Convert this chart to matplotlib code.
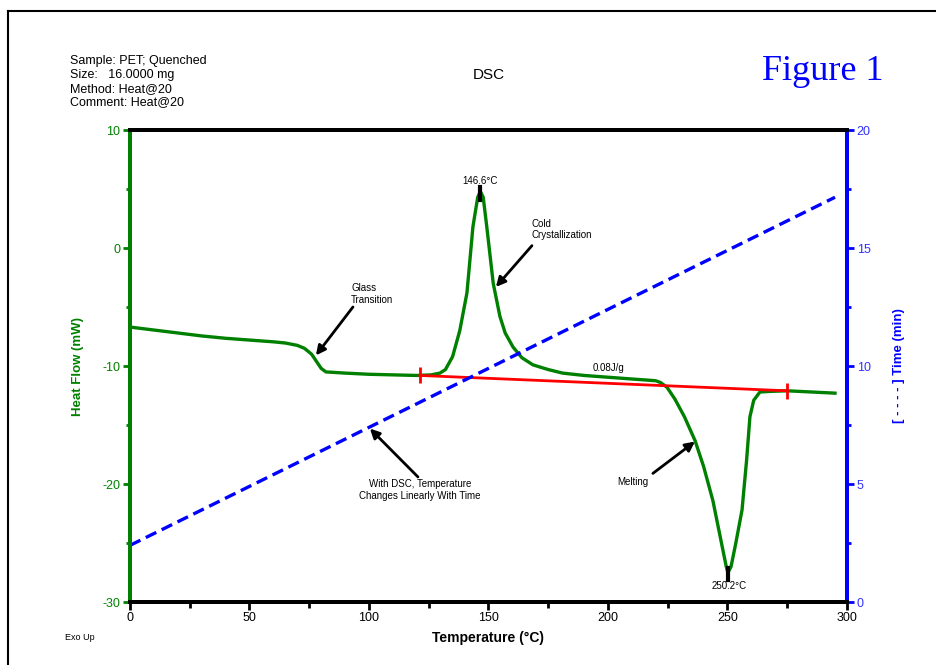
import matplotlib
matplotlib.use("Agg")
import matplotlib.pyplot as plt
from matplotlib.lines import Line2D
from matplotlib.ticker import MultipleLocator

plt.rcParams['font.family'] = ['Liberation Sans', 'DejaVu Sans']
plt.rcParams['axes.unicode_minus'] = False

# heat flow curve (Temperature in C, heat flow in mW)
temp = [0, 10, 20, 30, 40, 50, 60, 65, 70, 73, 76, 78, 80, 82, 90, 100, 110, 120,
        126, 129.7, 132, 135, 138, 141, 143.5, 145.5, 146.6, 147.8, 149.3, 152,
        154.8, 157, 160.3, 164, 168.6, 175, 181, 190, 200, 210, 217, 220, 222,
        224.7, 228, 232, 236.4, 240, 243.9, 247, 249.5, 250.2, 251.5, 253.5,
        256.1, 258, 259.4, 261, 263.6, 268, 275, 285, 295]
heat_flow = [-6.7, -6.95, -7.2, -7.45, -7.65, -7.8, -7.95, -8.05, -8.25, -8.5, -9.0,
             -9.6, -10.2, -10.5, -10.6, -10.7, -10.75, -10.8, -10.75, -10.6, -10.3,
             -9.2, -7.0, -3.8, 1.8, 4.3, 4.8, 4.3, 1.8, -3.0, -5.8, -7.2, -8.4, -9.3,
             -9.9, -10.3, -10.6, -10.8, -10.95, -11.1, -11.2, -11.25, -11.4, -11.8,
             -12.8, -14.3, -16.3, -18.5, -21.4, -24.5, -27.0, -27.5, -27.0, -25.0,
             -22.2, -18.0, -14.3, -12.9, -12.2, -12.15, -12.1, -12.2, -12.3]

# integration baseline
base_temp = [121.3, 274.9]
base_flow = [-10.8, -12.1]

# time vs temperature
time_temp = [0, 295]
time_min = [2.4, 17.15]

green = '#008000'
blue = '#0000ff'

fig = plt.figure(figsize=(9.37, 6.65), dpi=100)
ax = fig.add_axes([0.1387, 0.0947, 0.7652, 0.7098])
ax2 = ax.twinx()

ax.plot(temp, heat_flow, color=green, lw=2.4, zorder=3)
ax.plot(base_temp, base_flow, color='red', lw=2, zorder=4)
ax.plot(base_temp, base_flow, ls='none', marker='|', ms=12, mew=2, color='red', zorder=4)
ax2.plot(time_temp, time_min, color=blue, lw=2.4, dashes=(3.5, 1.8))

ax.set_xlim(0, 300)
ax.set_ylim(-30, 10)
ax2.set_ylim(0, 20)

ax.xaxis.set_major_locator(MultipleLocator(50))
ax.xaxis.set_minor_locator(MultipleLocator(25))
ax.yaxis.set_major_locator(MultipleLocator(10))
ax.yaxis.set_minor_locator(MultipleLocator(5))
ax2.yaxis.set_major_locator(MultipleLocator(5))
ax2.yaxis.set_minor_locator(MultipleLocator(2.5))

for a in (ax, ax2):
    for s in a.spines.values():
        s.set_linewidth(2.8)
    a.spines['left'].set_color(green)
    a.spines['right'].set_color(blue)
    a.spines['top'].set_color('black')
    a.spines['bottom'].set_color('black')

ax.tick_params(axis='x', which='major', direction='out', length=6, width=2,
               labelsize=9, pad=1, colors='black')
ax.tick_params(axis='x', which='minor', direction='out', length=4, width=2)
ax.tick_params(axis='y', which='major', direction='out', length=5, width=2,
               labelsize=9, pad=2, colors=green)
ax.tick_params(axis='y', which='minor', direction='out', length=3, width=2, colors=green)
ax2.tick_params(axis='y', which='major', direction='out', length=5, width=2,
                labelsize=9, pad=2, colors=blue, labelcolor='#3030ff')
ax2.tick_params(axis='y', which='minor', direction='out', length=3, width=2, colors=blue)

ax.set_xlabel("Temperature (°C)", fontsize=10, fontweight='bold', labelpad=5)
ax.set_ylabel("Heat Flow (mW)", fontsize=9.5, fontweight='bold', color=green, labelpad=13)
ax2.set_ylabel("[ - - - - ] Time (min)", fontsize=9.5, fontweight='bold', color=blue, labelpad=16)

# annotations
arrow = dict(arrowstyle='-|>', color='black', lw=2, mutation_scale=14, shrinkA=0, shrinkB=0)
ax.annotate("", xy=(77.8, -9.1), xytext=(93.3, -5.0), arrowprops=arrow, zorder=5)
ax.text(92.5, -3.0, "Glass\nTransition", fontsize=7, ha='left', va='top', linespacing=1.15)
ax.annotate("", xy=(153.1, -3.3), xytext=(168.2, 0.2), arrowprops=arrow, zorder=5)
ax.text(168.0, 2.5, "Cold\nCrystallization", fontsize=7, ha='left', va='top', linespacing=1.15)
ax.annotate("", xy=(236.4, -16.4), xytext=(218.8, -19.1), arrowprops=arrow, zorder=5)
ax.text(210.5, -19.8, "Melting", fontsize=7, ha='center', va='center')
ax.annotate("", xy=(100.4, -15.3), xytext=(120.5, -19.4), arrowprops=arrow, zorder=5)
ax.text(121.3, -20.5, "With DSC, Temperature\nChanges Linearly With Time", fontsize=7,
        ha='center', va='center', linespacing=1.15)
ax.text(200.4, -10.2, "0.08J/g", fontsize=7, ha='center', va='center')

ax.plot([146.6, 146.6], [4.1, 5.2], color='black', lw=3, zorder=5)
ax.text(146.4, 5.7, "146.6°C", fontsize=7, ha='center', va='center')
ax.plot([250.2, 250.2], [-27.1, -28.1], color='black', lw=3, zorder=5)
ax.text(250.6, -28.6, "250.2°C", fontsize=7, ha='center', va='center')

# header text
fig.text(70 / 937, 1 - 55 / 665,
         "Sample: PET; Quenched\nSize:   16.0000 mg\nMethod: Heat@20\nComment: Heat@20",
         fontsize=9, ha='left', va='top', linespacing=1.2)
fig.text(489 / 937, 1 - 75 / 665, "DSC", fontsize=11, ha='center', va='center')
fig.text(823 / 937, 1 - 72 / 665, "Figure 1", fontsize=26, color=blue, ha='center',
         va='center', family=['Liberation Serif', 'DejaVu Serif'])
fig.text(80 / 937, 1 - 637 / 665, "Exo Up", fontsize=6.5, ha='center', va='center')

# page frame
fig.add_artist(Line2D([8.5 / 937, 8.5 / 937], [0, 1 - 10.5 / 665], color='black', lw=1.5,
                      transform=fig.transFigure))
fig.add_artist(Line2D([8.5 / 937, 1], [1 - 10.5 / 665, 1 - 10.5 / 665], color='black', lw=1.5,
                      transform=fig.transFigure))

fig.savefig("out.png", dpi=100)
